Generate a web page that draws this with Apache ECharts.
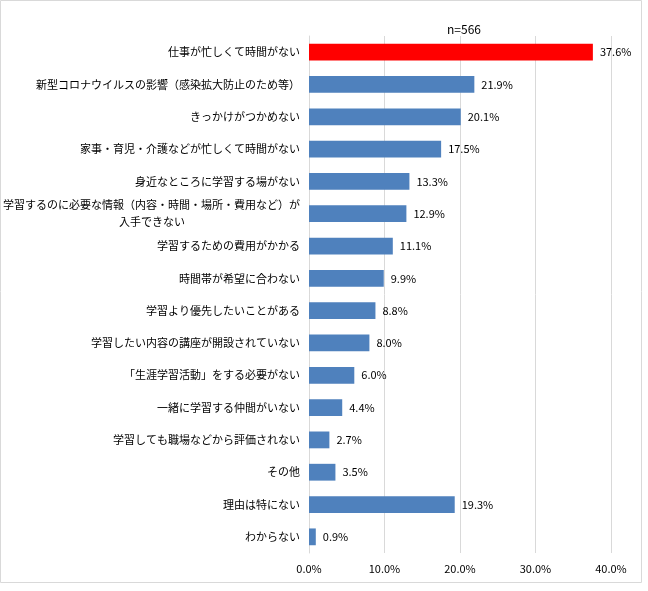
<!DOCTYPE html>
<html><head><meta charset="utf-8">
<script src="https://cdn.jsdelivr.net/npm/echarts@6/dist/echarts.min.js"></script>
<style>html,body{margin:0;padding:0;background:#fff;}#c{width:648px;height:591px;}</style>
</head><body><div id="c"></div>
<script>
var categories = [
  '仕事が忙しくて時間がない',
  '新型コロナウイルスの影響（感染拡大防止のため等）',
  'きっかけがつかめない',
  '家事・育児・介護などが忙しくて時間がない',
  '身近なところに学習する場がない',
  '学習するのに必要な情報（内容・時間・場所・費用など）が\n入手できない',
  '学習するための費用がかかる',
  '時間帯が希望に合わない',
  '学習より優先したいことがある',
  '学習したい内容の講座が開設されていない',
  '「生涯学習活動」をする必要がない',
  '一緒に学習する仲間がいない',
  '学習しても職場などから評価されない',
  'その他',
  '理由は特にない',
  'わからない'
];
var values = [37.6, 21.9, 20.1, 17.5, 13.3, 12.9, 11.1, 9.9, 8.8, 8.0, 6.0, 4.4, 2.7, 3.5, 19.3, 0.9];
var highlightIndex = 0;
var xTicks = [0, 10, 20, 30, 40];
var titleText = 'n=566';

var font = '"Noto Sans CJK JP", "Noto Sans", sans-serif';
var labelSize = 11;
var measureCtx = document.createElement('canvas').getContext('2d');
measureCtx.font = labelSize + 'px ' + font;
function textWidth(s) { return measureCtx.measureText(s).width; }

var chart = echarts.init(document.getElementById('c'));
var data = values.map(function (v, i) {
  return { value: v, itemStyle: { color: i === highlightIndex ? '#FF0000' : '#4F81BD' } };
});
var richStyles = { t: { fontSize: labelSize, color: '#000', fontFamily: font, lineHeight: 17 } };
var labelMap = {};
categories.forEach(function (cat, ci) {
  var lines = cat.split('\n');
  if (lines.length === 1) { labelMap[cat] = cat; return; }
  var w = Math.max.apply(null, lines.map(textWidth));
  labelMap[cat] = lines.map(function (s, li) {
    var pad = Math.round((w - textWidth(s)) / 2);
    if (pad < 2) return '{t|' + s + '}';
    var key = 'p' + ci + '_' + li;
    richStyles[key] = { width: pad, fontSize: labelSize, lineHeight: 17, fontFamily: font };
    return '{t|' + s + '}{' + key + '| }';
  }).join('\n');
});

chart.setOption({
  animation: false,
  title: {
    text: titleText, left: 442, top: 18,
    textStyle: { fontSize: 12, fontWeight: 'normal', color: '#000', fontFamily: font }
  },
  grid: { left: 309, right: 37, top: 36, bottom: 38, containLabel: false },
  xAxis: {
    type: 'value', min: xTicks[0], max: xTicks[xTicks.length - 1], interval: 10,
    axisLine: { show: false }, axisTick: { show: false },
    splitLine: { show: true, lineStyle: { color: '#d9d9d9', width: 1 } },
    axisLabel: {
      margin: 10, fontSize: 11, color: '#000', fontFamily: font,
      formatter: function (v) { return v.toFixed(1) + '%'; }
    }
  },
  yAxis: {
    type: 'category', inverse: true, data: categories,
    axisLine: { show: true, lineStyle: { color: '#d9d9d9' } },
    axisTick: { show: false },
    axisLabel: {
      margin: 9, fontSize: labelSize, color: '#000', fontFamily: font, lineHeight: 17,
      formatter: function (v) { return labelMap[v] || v; },
      rich: richStyles
    }
  },
  series: [{
    type: 'bar', data: data, barCategoryGap: '48%',
    label: {
      show: true, position: 'right', distance: 7, fontSize: 11, color: '#000', fontFamily: font,
      formatter: function (p) { return p.value.toFixed(1) + '%'; }
    }
  }],
  graphic: [{
    type: 'rect', shape: { x: 0.5, y: 0.5, width: 641, height: 582 },
    style: { fill: 'none', stroke: '#d9d9d9', lineWidth: 1 }, silent: true
  }]
});
</script>
</body></html>
